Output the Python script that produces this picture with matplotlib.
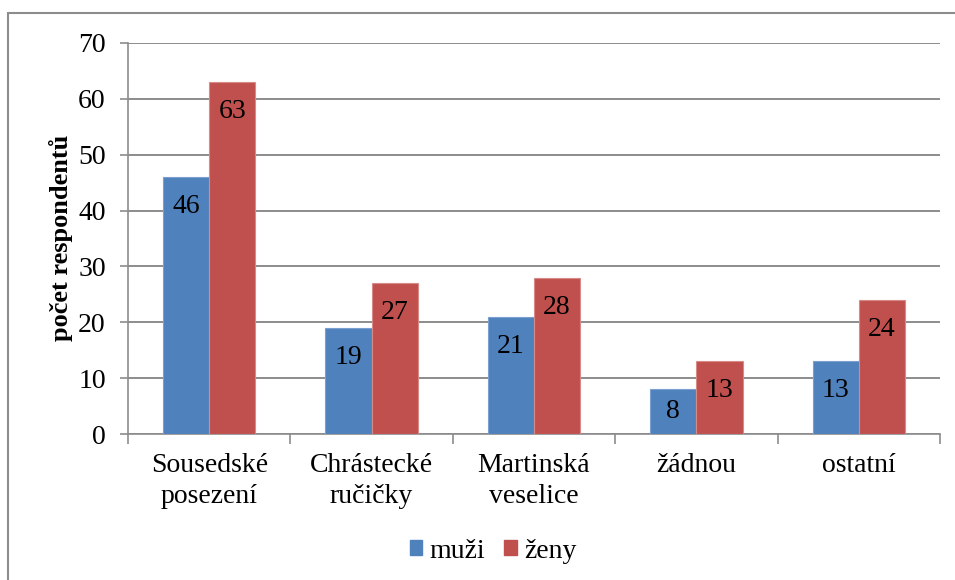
import matplotlib.pyplot as plt
import matplotlib.patches as mpatches
import numpy as np

categories = ['Sousedské\nposezení', 'Chrástecké\nručičky', 'Martinská\nveselice', 'žádnou', 'ostatní']
muzi = [46, 19, 21, 8, 13]
zeny = [63, 27, 28, 13, 24]
series_names = ['muži', 'ženy']

plt.rcParams['font.family'] = ['Liberation Serif', 'DejaVu Serif']

fig = plt.figure(figsize=(9.55, 5.8), dpi=100)
ax = fig.add_axes([128 / 955, 1 - 434 / 580, 812 / 955, 391 / 580])

x = np.arange(len(categories))
w = 0.284
blue = '#4F81BD'
red = '#C0504D'
ax.bar(x - w / 2, muzi, w, color=blue, edgecolor='#7A9FD0', linewidth=0.8, zorder=3, label=series_names[0])
ax.bar(x + w / 2, zeny, w, color=red, edgecolor='#D88A88', linewidth=0.8, zorder=3, label=series_names[1])

for xs, vals in ((x - w / 2, muzi), (x + w / 2, zeny)):
    for xi, v in zip(xs, vals):
        ax.text(xi, max(v - 5.3, v / 2), str(v), ha='center', va='center', fontsize=20, zorder=4)

ax.set_xlim(-0.5, len(categories) - 0.5)
ax.set_ylim(0, 70)
ax.set_yticks(range(0, 71, 10))
ax.yaxis.grid(True, color='#8C8C8C', linewidth=1.4, zorder=0)
ax.set_axisbelow(True)

ax.set_xticks(np.arange(-0.5, len(categories), 1.0))
ax.set_xticklabels([])
ax.set_xticks(x, minor=True)
ax.set_xticklabels(categories, minor=True, fontsize=20, linespacing=1.3)
ax.tick_params(axis='x', which='major', length=7, color='#8C8C8C', width=1.2)
ax.tick_params(axis='x', which='minor', length=0, pad=14)
ax.tick_params(axis='y', length=6, color='#8C8C8C', width=1.2, labelsize=20, pad=10)

for side in ('top', 'right'):
    ax.spines[side].set_visible(False)
for side in ('left', 'bottom'):
    ax.spines[side].set_color('#8C8C8C')
    ax.spines[side].set_linewidth(1.2)

fig.text(61 / 955, 1 - 238 / 580, 'počet respondentů', rotation=90, ha='center', va='center',
         fontsize=19, fontweight='bold')

handles = [mpatches.Patch(color=blue, label=series_names[0]), mpatches.Patch(color=red, label=series_names[1])]
fig.legend(handles=handles, loc='center', bbox_to_anchor=(493 / 955, 1 - 551 / 580), ncol=2, frameon=False,
           fontsize=20, handlelength=0.45, handleheight=0.45, handletextpad=0.25, columnspacing=0.7)

fig.patches.append(mpatches.Rectangle((8 / 955, -0.1), 1.2, 1 - 13 / 580 + 0.1, transform=fig.transFigure,
                                      fill=False, edgecolor='#8C8C8C', linewidth=1.5))

fig.savefig('out.png', dpi=100)
